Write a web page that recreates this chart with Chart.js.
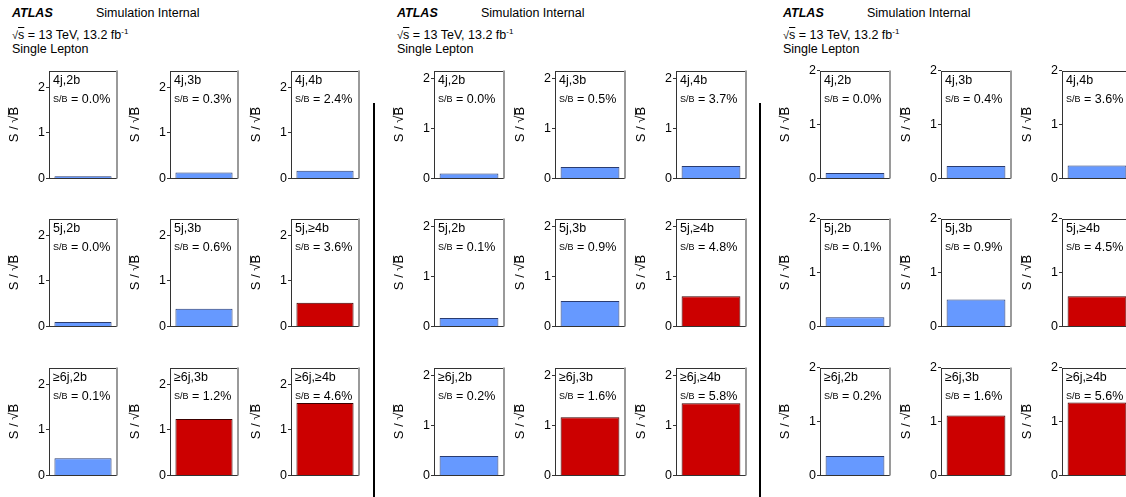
<!DOCTYPE html>
<html>
<head>
<meta charset="utf-8">
<script src="https://cdn.jsdelivr.net/npm/chart.js@4.4.1/dist/chart.umd.min.js"></script>
<style>
body{margin:0;width:1126px;height:497px;overflow:hidden;background:#fff;position:relative;font-family:"Liberation Sans",Arial,sans-serif}
.t{position:absolute;font-size:12.5px;line-height:14px;color:#000;white-space:nowrap}
.atlas{font-weight:bold;font-style:italic}
.ov{text-decoration:overline}
.sep{position:absolute;top:103px;height:394px;width:2px;background:#000}
canvas{position:absolute}
</style>
</head>
<body>
<script>
// analysis regions (3x3 grid, row = jet multiplicity, column = b-tag multiplicity)
const regions = ['4j,2b', '4j,3b', '4j,4b', '5j,2b', '5j,3b', '5j,\u22654b', '\u22656j,2b', '\u22656j,3b', '\u22656j,\u22654b'];
const signalRich = ['5j,\u22654b', '\u22656j,3b', '\u22656j,\u22654b'];

// S/sqrt(B) per region
const sigLeft = [0.05, 0.13, 0.17, 0.10, 0.39, 0.52, 0.38, 1.24, 1.59];
const sigMiddle = [0.10, 0.23, 0.25, 0.17, 0.51, 0.61, 0.39, 1.17, 1.45];
const sigRight = [0.10, 0.23, 0.24, 0.17, 0.50, 0.56, 0.36, 1.11, 1.35];

// S/B in percent per region
const sbLeft = ['0.0', '0.3', '2.4', '0.0', '0.6', '3.6', '0.1', '1.2', '4.6'];
const sbMiddle = ['0.0', '0.5', '3.7', '0.1', '0.9', '4.8', '0.2', '1.6', '5.8'];
const sbRight = ['0.0', '0.4', '3.6', '0.1', '0.9', '4.5', '0.2', '1.6', '5.6'];

const yAxisMax = [2.37, 2.17, 2.0];

const FONT = '"Liberation Sans", Arial, sans-serif';
Chart.defaults.font.family = FONT;
Chart.defaults.color = '#000';
Chart.defaults.animation = false;

const panels = [
    {sig: sigLeft, sb: sbLeft, yMax: yAxisMax[0], x: 0, boxW: 68},
    {sig: sigMiddle, sb: sbMiddle, yMax: yAxisMax[1], x: 385, boxW: 70},
    {sig: sigRight, sb: sbRight, yMax: yAxisMax[2], x: 771, boxW: 70}
];
const colX = [49, 170, 291];
const rowY = [70, 218, 367];
const boxH = 109;
const AXW = 48;

// frame + region labels drawn inside each pad
const padPlugin = {
    id: 'pad',
    afterDatasetsDraw(chart, args, opts) {
        const ctx = chart.ctx, a = chart.chartArea;
        ctx.save();
        ctx.strokeStyle = '#333';
        ctx.lineWidth = 1;
        ctx.strokeRect(Math.round(a.left) + 0.5, Math.round(a.top) + 0.5, Math.round(a.width) - 1, Math.round(a.height) - 1);
        ctx.strokeStyle = '#9a9a9a';
        ctx.lineWidth = 2;
        ctx.beginPath();
        ctx.moveTo(Math.round(a.right), a.top);
        ctx.lineTo(Math.round(a.right), a.bottom);
        ctx.stroke();
        ctx.fillStyle = '#000';
        ctx.textBaseline = 'middle';
        ctx.font = '12.5px ' + FONT;
        ctx.fillText(opts.region, a.left + 4, a.top + 10.5);
        ctx.font = '9px ' + FONT;
        ctx.fillText('S/B', a.left + 4, a.top + 29.5);
        const w = ctx.measureText('S/B').width;
        ctx.font = '12.5px ' + FONT;
        ctx.fillText(' = ' + opts.sb + '%', a.left + 4 + w, a.top + 29);
        ctx.restore();
    }
};

function header(px) {
    const add = (html, cls, left, top) => {
        const d = document.createElement('div');
        d.className = 't ' + (cls || '');
        d.innerHTML = html;
        d.style.left = (px + left) + 'px';
        d.style.top = top + 'px';
        document.body.appendChild(d);
    };
    add('ATLAS', 'atlas', 12, 6);
    add('Simulation Internal', '', 96, 6);
    add('<span style="font-size:11px">\u221A</span><span class="ov">s</span> = 13 TeV, 13.2 fb<sup style="font-size:8px;vertical-align:5px">-1</sup>', '', 12, 25);
    add('Single Lepton', '', 12, 42);
}

panels.forEach((p, pi) => {
    header(p.x);
    if (pi > 0) {
        const s = document.createElement('div');
        s.className = 'sep';
        s.style.left = (p.x - 12) + 'px';
        document.body.appendChild(s);
    }
    regions.forEach((reg, i) => {
        const r = Math.floor(i / 3), c = i % 3;
        const boxLeft = p.x + colX[c], boxTop = rowY[r];
        const cv = document.createElement('canvas');
        const w = AXW + p.boxW + 4, h = boxH + 16;
        cv.width = w; cv.height = h;
        cv.style.width = w + 'px'; cv.style.height = h + 'px';
        cv.style.left = (boxLeft - AXW) + 'px';
        cv.style.top = (boxTop - 8) + 'px';
        document.body.appendChild(cv);
        const red = signalRich.includes(reg);
        new Chart(cv, {
            type: 'bar',
            data: {
                labels: [reg],
                datasets: [{
                    data: [p.sig[i]],
                    backgroundColor: red ? '#cc0000' : '#6699ff',
                    borderColor: red ? '#3a0000' : '#2a3c70',
                    borderWidth: 1,
                    borderSkipped: 'start',
                    barPercentage: 0.84,
                    categoryPercentage: 1
                }]
            },
            options: {
                responsive: false,
                devicePixelRatio: 1,
                layout: {padding: {left: 0, right: 4, top: 8, bottom: 8}},
                plugins: {
                    legend: {display: false},
                    tooltip: {enabled: false},
                    pad: {region: reg, sb: p.sb[i]}
                },
                scales: {
                    x: {display: false},
                    y: {
                        min: 0,
                        max: p.yMax,
                        afterFit: s => { s.width = AXW; },
                        border: {display: false},
                        grid: {drawOnChartArea: false, tickLength: 3, color: '#333'},
                        ticks: {stepSize: 1, includeBounds: false, padding: 1, font: {size: 12.5}},
                        title: {display: true, text: 'S / \u221AB\u0305', font: {size: 13}, padding: {top: 6, bottom: 0}}
                    }
                }
            },
            plugins: [padPlugin]
        });
    });
});
</script>
</body>
</html>
